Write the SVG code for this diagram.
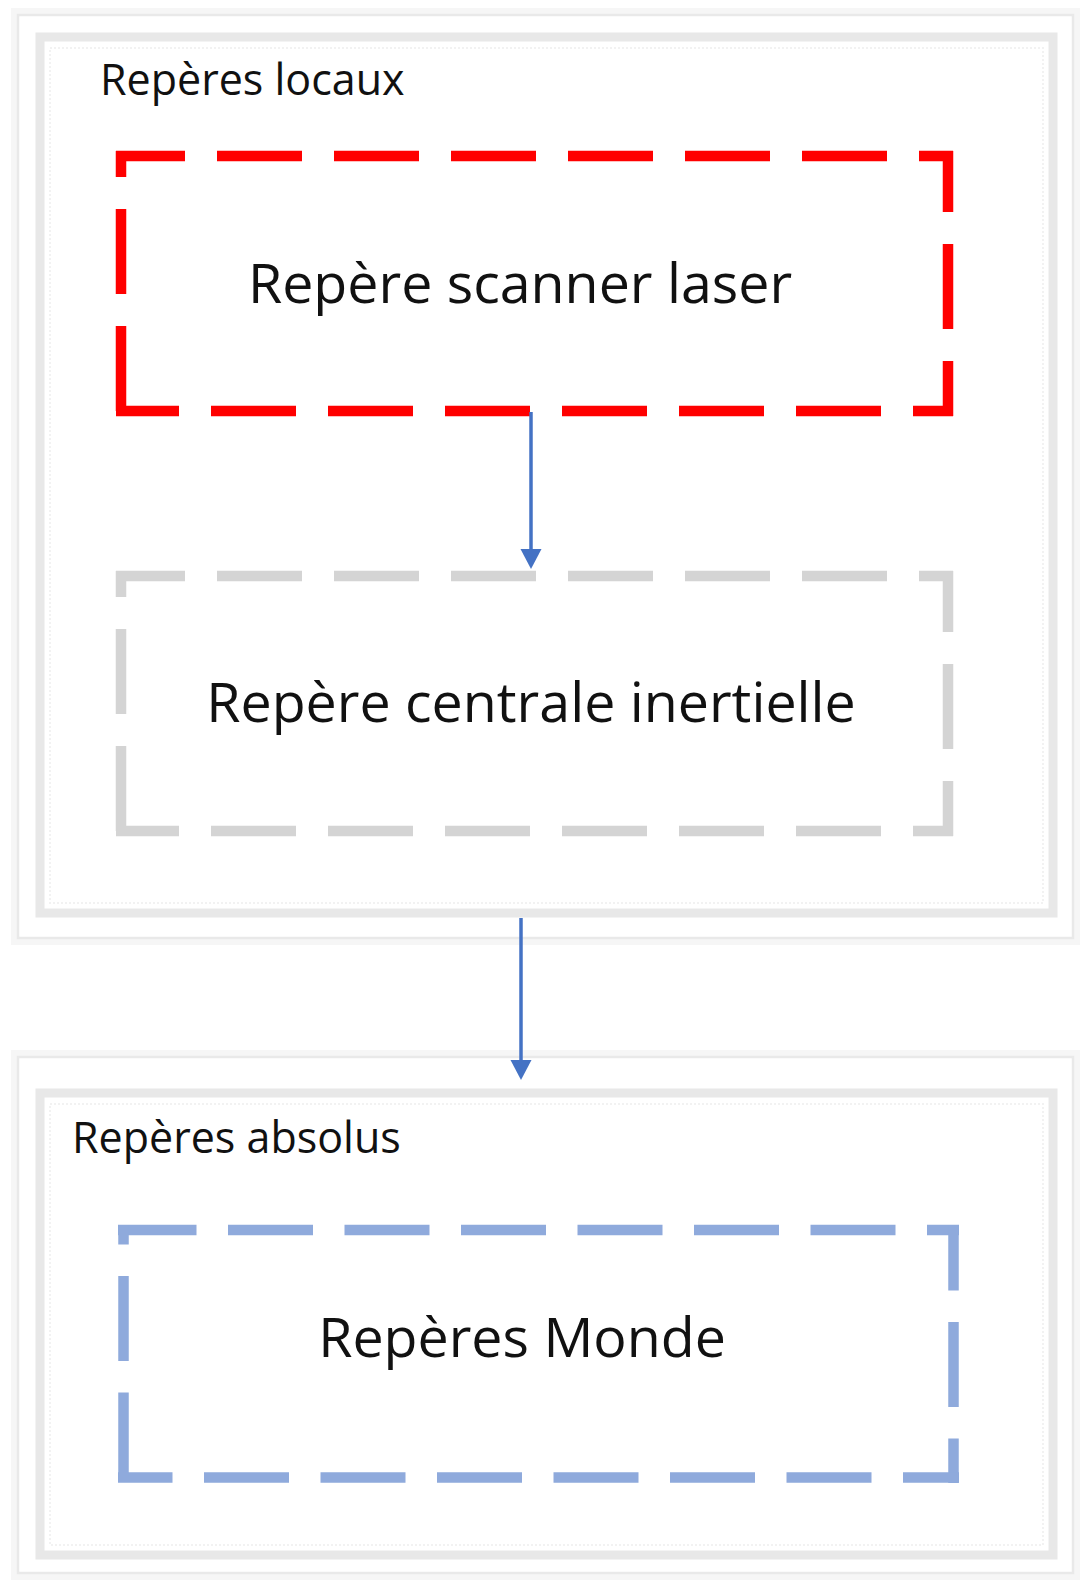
<svg xmlns="http://www.w3.org/2000/svg" width="1083" height="1580" viewBox="0 0 1083 1580">
  <style>
    .glow { fill: none; stroke: #f6f6f6; stroke-width: 10; }
    .card { fill: #ffffff; stroke: #e9e9e9; stroke-width: 2.5; }
    .band { fill: none; stroke: #e8e8e8; stroke-width: 9; }
    .bandin { fill: none; stroke: #f2f2f2; stroke-width: 2; stroke-dasharray: 2 2; }
    .red  { stroke: #ff0000; stroke-width: 10.5; stroke-dasharray: 85 32; fill: none; }
    .gray { stroke: #d4d4d4; stroke-width: 10.5; stroke-dasharray: 85 32; fill: none; }
    .blue { stroke: #8faadc; stroke-width: 10.5; stroke-dasharray: 85 31.5; fill: none; }
    .grp  { font-family: "Open Sans", "Liberation Sans", sans-serif; font-size: 43px; fill: #111111; }
    .lbl  { font-family: "Open Sans", "Liberation Sans", sans-serif; font-size: 55.5px; fill: #111111; text-anchor: middle; }
    .conn { stroke: #4472c4; stroke-width: 3.5; fill: none; }
  </style>
  <defs>
    <marker id="arrow" markerUnits="userSpaceOnUse" markerWidth="22" markerHeight="22" refX="2" refY="10.5" orient="auto">
      <path d="M0,0 L20,10.5 L0,21 z" fill="#4472c4"/>
    </marker>
  </defs>
  <rect width="1083" height="1580" fill="#ffffff"/>

  <g id="reperes-locaux">
    <rect class="glow" x="16" y="13" width="1059" height="927"/>
    <rect class="card" x="18" y="15" width="1055" height="923"/>
    <rect class="band" x="40" y="37" width="1013" height="876"/>
    <rect class="bandin" x="50" y="48" width="993" height="855"/>
    <text class="grp" x="100" y="95">Repères locaux</text>
  </g>

  <g id="reperes-absolus">
    <rect class="glow" x="16" y="1055" width="1059" height="520"/>
    <rect class="card" x="18" y="1057" width="1055" height="516"/>
    <rect class="band" x="40" y="1093" width="1013" height="462"/>
    <rect class="bandin" x="50" y="1104" width="993" height="441"/>
    <text class="grp" x="72" y="1153">Repères absolus</text>
  </g>

  <g id="repere-scanner-laser">
    <line class="red" x1="116" y1="156" x2="953" y2="156" stroke-dashoffset="16"/>
    <line class="red" x1="948" y1="151" x2="948" y2="416" stroke-dashoffset="24"/>
    <line class="red" x1="116" y1="411" x2="953" y2="411" stroke-dashoffset="22"/>
    <line class="red" x1="121" y1="151" x2="121" y2="416" stroke-dashoffset="59"/>
    <text class="lbl" x="520" y="303">Repère scanner laser</text>
  </g>

  <g id="repere-centrale-inertielle">
    <line class="gray" x1="116" y1="576" x2="953" y2="576" stroke-dashoffset="16"/>
    <line class="gray" x1="948" y1="571" x2="948" y2="836" stroke-dashoffset="24"/>
    <line class="gray" x1="116" y1="831" x2="953" y2="831" stroke-dashoffset="22"/>
    <line class="gray" x1="121" y1="571" x2="121" y2="836" stroke-dashoffset="59"/>
    <text class="lbl" x="531" y="722">Repère centrale inertielle</text>
  </g>

  <g id="reperes-monde">
    <line class="blue" x1="118" y1="1230" x2="959" y2="1230" stroke-dashoffset="6.5"/>
    <line class="blue" x1="953.5" y1="1225" x2="953.5" y2="1483" stroke-dashoffset="19.5"/>
    <line class="blue" x1="118" y1="1477.5" x2="959" y2="1477.5" stroke-dashoffset="30.5"/>
    <line class="blue" x1="123.5" y1="1225" x2="123.5" y2="1483" stroke-dashoffset="65.5"/>
    <text class="lbl" x="522" y="1357">Repères Monde</text>
  </g>

  <g id="connectors">
    <line class="conn" x1="531" y1="412" x2="531" y2="551" marker-end="url(#arrow)"/>
    <line class="conn" x1="521" y1="918" x2="521" y2="1062" marker-end="url(#arrow)"/>
  </g>
</svg>
